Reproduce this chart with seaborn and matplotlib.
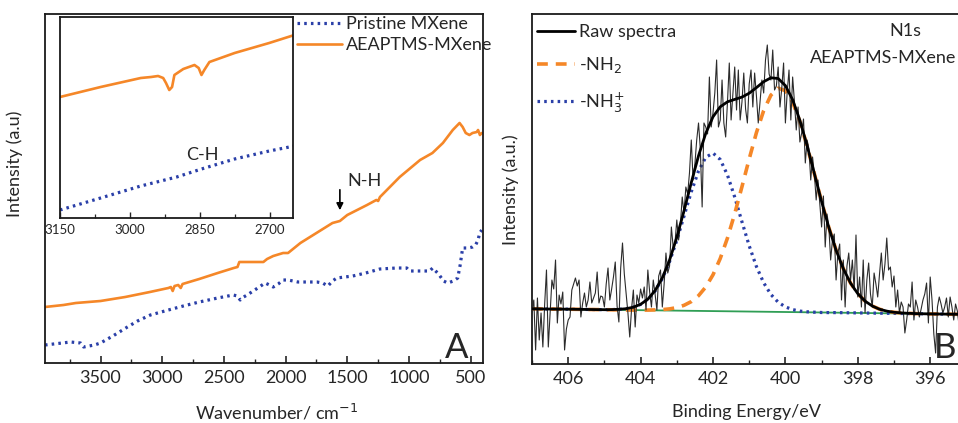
import numpy as np
import pandas as pd
import matplotlib
matplotlib.use("Agg")
import matplotlib.pyplot as plt
from matplotlib.lines import Line2D
from matplotlib.ticker import MultipleLocator
import seaborn as sns

# ---------------- Panel A: FTIR ----------------
ftir_orange_wn = [3950, 3800, 3700, 3600, 3500, 3300, 3100, 2950, 2930, 2915, 2900, 2870, 2850, 2835,
                  2700, 2550, 2420, 2390, 2375, 2330, 2180, 2150, 2100, 2020, 1980, 1880, 1750, 1620,
                  1560, 1500, 1340, 1265, 1250, 1235, 1075, 910, 810, 725, 645, 590, 565, 540, 510,
                  485, 450, 440, 425, 410]
ftir_orange_val = [56, 58, 60, 61, 62, 66, 71, 75, 76, 72, 77, 78, 75, 79,
                   84, 90, 95, 96, 101, 101, 101, 104, 107, 110, 110, 120, 130, 140,
                   142, 148, 158, 163, 162, 166, 186, 203, 210, 220, 233, 240, 236, 230, 228,
                   230, 231, 233, 228, 230]

ftir_blue_wn = [3950, 3742, 3662, 3637, 3550, 3500, 3400, 3282, 3200, 3096, 2950, 2829, 2700, 2550,
                2425, 2390, 2368, 2340, 2312, 2250, 2166, 2130, 2100, 2060, 2020, 1980, 1900, 1746,
                1700, 1657, 1620, 1585, 1455, 1350, 1236, 1100, 1018, 994, 900, 832, 808, 760, 720,
                686, 640, 605, 585, 565, 520, 484, 460, 440, 427, 410]
ftir_blue_val = [18, 21, 20, 16, 18, 20, 27, 36, 42, 48, 53, 57, 61, 65,
                 68, 67, 63, 66, 68, 73, 80, 78, 76, 79, 83, 83, 81, 81,
                 80, 77, 82, 85, 87, 90, 94, 95, 95, 92, 92, 92, 95, 89, 82,
                 80, 82, 85, 98, 115, 115, 116, 118, 123, 130, 133]

inset_orange_wn = [3150, 3063, 2977, 2955, 2940, 2929, 2923, 2916, 2910, 2905, 2886, 2862, 2853,
                   2847, 2841, 2830, 2776, 2702, 2648]
inset_orange_val = [121, 131, 140, 141, 142, 140, 135, 128, 131, 143, 149, 153, 150,
                    143, 148, 156, 165, 175, 183]
inset_blue_wn = [3150, 3063, 2977, 2900, 2847, 2776, 2702, 2648]
inset_blue_val = [8, 20, 32, 41, 49, 59, 67, 72]

main_ticks = [3500, 3000, 2500, 2000, 1500, 1000, 500]
inset_ticks = [3150, 3000, 2850, 2700]

# ---------------- Panel B: XPS N1s ----------------
raw_start, raw_step = 407.0, -0.05
raw_intensity = [
    52, 64, 14, 66, 24, 51, 17, 60, 94, 17, 50, 84, 75, 104, 41, 69, 60, 72, 14, 35,
    44, 47, 74, 80, 86, 78, 84, 47, 61, 71, 57, 64, 82, 61, 66, 71, 92, 61, 68, 67,
    57, 80, 96, 64, 75, 87, 102, 58, 42, 96, 121, 90, 71, 51, 27, 55, 74, 37, 69, 61, 75,
    66, 77, 54, 94, 72, 57, 84, 70, 54, 88,
    94, 57, 80, 111, 91, 98, 137, 117, 121, 144,
    124, 140, 167, 151, 177, 170, 191, 224, 184, 200,
    224, 241, 215, 157, 241, 237, 230, 287, 237, 251,
    271, 304, 237, 244, 284, 241, 227, 262, 301, 244,
    270, 297, 254, 294, 244, 262, 291, 255, 241, 280,
    294, 257, 291, 268, 241, 262, 284, 271, 304, 319,
    290, 284, 314, 274, 278, 297, 257, 276, 301, 241,
    272, 294, 244, 287, 262, 234, 257, 222, 231, 245,
    201, 224, 215, 184, 207, 190, 164, 184, 160, 137,
    168, 117, 150, 137, 104, 124, 130, 84, 111, 120,
    64, 104, 57, 98, 111, 84, 104, 74, 129, 67,
    87, 57, 104, 51, 84, 101, 70, 57, 91, 80,
    67, 90, 111, 84, 100, 126, 94, 97, 77, 88,
    57, 74, 51, 62, 57, 31, 44, 60, 57, 82,
    44, 64, 57, 47, 55, 64, 70, 81, 41, 87,
    64, 30, 11, 57, 67, 60, 51, 57, 66, 47,
    67, 57, 44, 60, 53, 38, 62, 48, 66, 55,
]

fit_start, fit_step = 407.0, -0.2
nh2_curve = [
    55.2, 55.1, 55.0, 54.9, 54.9, 54.8, 54.7, 54.6, 54.5, 54.4,
    54.3, 54.2, 54.1, 54.0, 53.9, 53.9, 53.9, 54.1, 54.4, 55.1,
    56.4, 58.7, 62.4, 68.3, 77.0, 89.2, 105.5, 126.0, 150.3, 177.3,
    205.1, 231.4, 253.4, 268.9, 275.8, 273.3, 261.8, 242.5, 217.8, 190.3,
    162.4, 136.5, 113.9, 95.3, 80.9, 70.3, 62.9, 58.0, 54.8, 52.9,
    51.7, 51.1, 50.7, 50.4, 50.2, 50.1, 50.0, 49.9, 49.8, 49.7, 49.7]
nh3_curve = [
    55.2, 55.1, 55.0, 54.9, 54.9, 54.8, 54.7, 54.6, 54.5, 54.4,
    54.3, 54.4, 54.7, 55.3, 56.8, 59.6, 64.6, 73.0, 85.3, 102.3,
    123.7, 147.9, 172.2, 193.0, 206.7, 210.9, 204.5, 188.9, 166.9, 142.2,
    118.2, 97.4, 81.2, 69.5, 61.8, 57.1, 54.4, 52.9, 52.2, 51.8,
    51.5, 51.4, 51.4, 51.3, 51.2, 51.1, 51.0, 50.9, 50.8, 50.7,
    50.6, 50.5, 50.4, 50.3, 50.2, 50.1, 50.0, 49.9, 49.8, 49.7, 49.7]
envelope_curve = [
    55.2, 55.1, 55.0, 54.9, 54.9, 54.8, 54.7, 54.6, 54.5, 54.4,
    54.3, 54.4, 54.7, 55.3, 56.8, 59.7, 64.8, 73.4, 86.1, 103.9,
    126.7, 153.3, 181.4, 208.2, 230.7, 247.2, 257.2, 262.2, 264.6, 266.9,
    270.8, 276.4, 282.3, 286.2, 285.5, 278.4, 264.3, 243.6, 218.3, 190.5,
    162.4, 136.5, 113.9, 95.3, 80.9, 70.3, 62.9, 58.0, 54.8, 52.9,
    51.7, 51.1, 50.7, 50.4, 50.2, 50.1, 50.0, 49.9, 49.8, 49.7, 49.7]
background_energy = [407.0, 395.0]
background_val = [55.2, 49.7]
xps_ticks = [406, 404, 402, 400, 398, 396]

raw_energy = np.round(raw_start + raw_step * np.arange(len(raw_intensity)), 2)
fit_energy = np.round(fit_start + fit_step * np.arange(len(nh2_curve)), 2)

# ---------------- style ----------------
sns.set_style("ticks")
plt.rcParams['font.family'] = ['Lato', 'DejaVu Sans']
plt.rcParams['axes.linewidth'] = 1.3
plt.rcParams['axes.edgecolor'] = '#1a1a1a'

ORANGE = '#f58728'
BLUE = '#2a3fa8'
GREEN = '#2f9e55'
W, H = 958, 423
FS = 13

fig = plt.figure(figsize=(W / 100, H / 100), dpi=100)
axA = fig.add_axes([45 / W, (H - 363) / H, 438 / W, 349 / H])
axB = fig.add_axes([532 / W, (H - 364) / H, 434.4 / W, 350 / H])
axI = fig.add_axes([60 / W, (H - 218) / H, 233 / W, 201 / H])

dotted = (0, (0.8, 1.3))

# Panel A main
sns.lineplot(x=ftir_blue_wn, y=ftir_blue_val, ax=axA, estimator=None, sort=False,
             color=BLUE, lw=2.3, linestyle=dotted)
sns.lineplot(x=ftir_orange_wn, y=ftir_orange_val, ax=axA, estimator=None, sort=False,
             color=ORANGE, lw=1.9)
axA.set_xlim(3950, 400)
axA.set_ylim(0, 349)
axA.set_xticks(main_ticks)
axA.xaxis.set_minor_locator(MultipleLocator(250))
axA.set_yticks([])
axA.tick_params(axis='x', which='major', direction='in', length=5, width=1.2,
                labelsize=FS, pad=5, top=False)
axA.tick_params(axis='x', which='minor', direction='in', length=3, width=1.0, top=False)
axA.set_xlabel('')
axA.set_ylabel('')

axA.annotate('', xy=(1560, 150), xytext=(1560, 176),
             arrowprops=dict(arrowstyle='-|>', color='black', lw=1.2, mutation_scale=10))
axA.text(1500, 182, 'N-H', ha='left', va='center', fontsize=FS)
axA.text(0.94, 0.015, 'A', transform=axA.transAxes, ha='center', va='baseline', fontsize=25)

# Inset
sns.lineplot(x=inset_blue_wn, y=inset_blue_val, ax=axI, estimator=None, sort=False,
             color=BLUE, lw=2.3, linestyle=dotted)
sns.lineplot(x=inset_orange_wn, y=inset_orange_val, ax=axI, estimator=None, sort=False,
             color=ORANGE, lw=1.9)
axI.set_xlim(3150, 2651)
axI.set_ylim(0, 201)
axI.set_xticks(inset_ticks)
axI.xaxis.set_minor_locator(MultipleLocator(75))
axI.set_yticks([])
axI.tick_params(axis='x', which='major', direction='in', length=4, width=1.0,
                labelsize=9.5, pad=4)
axI.tick_params(axis='x', which='minor', direction='in', length=3, width=0.9)
axI.set_xlabel('')
axI.set_ylabel('')
axI.text(2845, 63, 'C-H', ha='center', va='center', fontsize=FS)

legA = [Line2D([], [], color=BLUE, lw=2.3, linestyle=dotted),
        Line2D([], [], color=ORANGE, lw=1.9)]
fig.legend(legA, ['Pristine MXene', 'AEAPTMS-MXene'], loc='upper left',
           bbox_to_anchor=(297 / W, 1 - 16 / H), frameon=False, fontsize=FS,
           handlelength=2.5, handletextpad=0.2, labelspacing=0.3,
           borderpad=0, borderaxespad=0)

# Panel B
sns.lineplot(x=background_energy, y=background_val, ax=axB, estimator=None, sort=False,
             color=GREEN, lw=1.3, zorder=1)
sns.lineplot(x=fit_energy, y=nh3_curve, ax=axB, estimator=None, sort=False,
             color=BLUE, lw=2.3, linestyle=dotted, zorder=2)
sns.lineplot(x=fit_energy, y=nh2_curve, ax=axB, estimator=None, sort=False,
             color=ORANGE, lw=2.6, linestyle=(0, (3, 2.2)), zorder=3)
sns.lineplot(x=raw_energy, y=raw_intensity, ax=axB, estimator=None, sort=False,
             color='#2b2b2b', lw=0.8, zorder=4)
sns.lineplot(x=fit_energy, y=envelope_curve, ax=axB, estimator=None, sort=False,
             color='black', lw=2.0, zorder=5)
axB.set_xlim(407, 395)
axB.set_ylim(0, 350)
axB.set_xticks(xps_ticks)
axB.xaxis.set_minor_locator(MultipleLocator(1))
axB.set_yticks([])
axB.tick_params(axis='x', which='major', direction='in', length=5, width=1.2,
                labelsize=FS, pad=5)
axB.tick_params(axis='x', which='minor', direction='in', length=3, width=1.0)
axB.set_xlabel('')
axB.set_ylabel('')

legB = [Line2D([], [], color='black', lw=2.0),
        Line2D([], [], color=ORANGE, lw=2.6, linestyle=(0, (3, 2.2))),
        Line2D([], [], color=BLUE, lw=2.3, linestyle=dotted)]
fig.legend(legB, ['Raw spectra', '-NH$_2$', '-NH$_3^{+}$'], loc='upper left',
           bbox_to_anchor=(537 / W, 1 - 24 / H), frameon=False, fontsize=FS,
           handlelength=2.1, handletextpad=0.2, labelspacing=0.85,
           borderpad=0, borderaxespad=0)

fig.text(905 / W, 1 - 31 / H, 'N1s', ha='center', va='center', fontsize=FS)
fig.text(956 / W, 1 - 58 / H, 'AEAPTMS-MXene', ha='right', va='center', fontsize=FS)
fig.text(956 / W, 1 - 358 / H, 'B', ha='right', va='baseline', fontsize=25)

# Axis titles
fig.text(15 / W, 1 - 164 / H, 'Intensity (a.u)', rotation=90, ha='center', va='center',
         fontsize=FS)
fig.text(511 / W, 1 - 190 / H, 'Intensity (a.u.)', rotation=90, ha='center', va='center',
         fontsize=FS)
fig.text(277 / W, 1 - 412 / H, 'Wavenumber/ cm$^{-1}$', ha='center', va='center', fontsize=FS)
fig.text(746 / W, 1 - 412 / H, 'Binding Energy/eV', ha='center', va='center', fontsize=FS)

fig.savefig('out.png', dpi=100)
